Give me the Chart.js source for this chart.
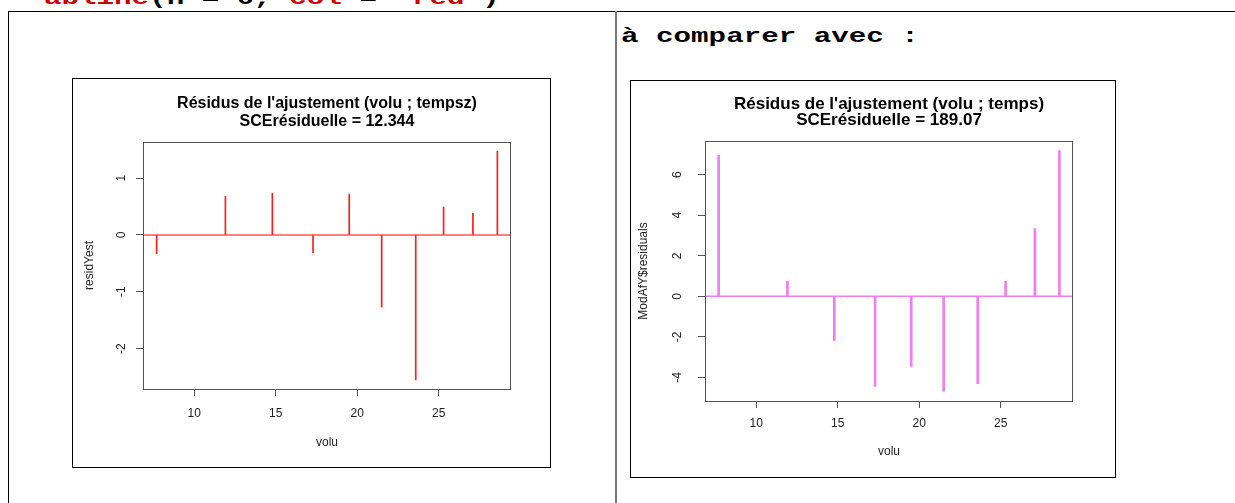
<!DOCTYPE html>
<html>
<head>
<meta charset="utf-8">
<script src="https://cdn.jsdelivr.net/npm/chart.js@4.4.1/dist/chart.umd.min.js"></script>
<style>
  html, body { margin: 0; padding: 0; background: #fff; width: 1235px; height: 503px; overflow: hidden; position: relative; }
  .code { position: absolute; font-family: "Courier New", "Liberation Mono", monospace; font-weight: bold;
          font-size: 20px; line-height: 20px; white-space: pre; transform: scaleX(1.46); transform-origin: 0 0; color: #000; }
  .kw { color: #cc0000; }
  .rule { position: absolute; background: #000; }
  .frame { position: absolute; border: 1px solid #000; background: #fff; }
  canvas { display: block; }
</style>
</head>
<body>
<div class="code" style="left:44px; top:-11px"><span class="kw">abline</span>(h = 0, <span class="kw">col</span> = <span class="kw">"red"</span>)</div>
<div class="rule" style="left:8px; top:11px; width:1227px; height:1px"></div>
<div class="rule" style="left:8px; top:11px; width:1px; height:492px"></div>
<div class="rule" style="left:615px; top:11px; width:2px; height:492px; background:#777"></div>
<div class="code" style="left:621px; top:27px">à comparer avec :</div>

<div class="frame" style="left:72px; top:78px; width:477px; height:388px"><canvas id="resZ" width="477" height="388"></canvas></div>
<div class="frame" style="left:630px; top:80px; width:484px; height:396px"><canvas id="resT" width="484" height="396"></canvas></div>

<script>
// volume of each observation (shared by both fits)
const volu = [7.69, 11.91, 14.79, 17.29, 19.51, 21.50, 23.59, 25.30, 27.10, 28.60];
// residuals of the fit volu ~ tempsz
const residYest = [-0.33, 0.68, 0.735, -0.31, 0.72, -1.27, -2.55, 0.49, 0.38, 1.475];
// residuals of the fit volu ~ temps
const residTemps = [6.96, 0.74, -2.18, -4.44, -3.46, -4.69, -4.31, 0.74, 3.34, 7.19];

const xTicks = [10, 15, 20, 25];
const yTicksZ = [-2, -1, 0, 1];
const yTicksT = [-4, -2, 0, 2, 4, 6];

const titleZ = ["Résidus de l'ajustement (volu ; tempsz)", "SCErésiduelle = 12.344"];
const titleT = ["Résidus de l'ajustement (volu ; temps)", "SCErésiduelle = 189.07"];
const abline = 0;

const FONT = '"Liberation Sans", Arial, Helvetica, sans-serif';

// R-style axis limits: data range widened by 4% on each side
function rRange(values) {
  const lo = Math.min(...values), hi = Math.max(...values);
  const pad = (hi - lo) * 0.04;
  return [lo - pad, hi + pad];
}

// plot box + horizontal reference line, drawn over the stems
const rFrame = {
  id: 'rFrame',
  afterDatasetsDraw(chart, args, opts) {
    const { ctx, chartArea: a, scales: { y } } = chart;
    ctx.save();
    const py = y.getPixelForValue(opts.h);
    ctx.strokeStyle = opts.hColor;
    ctx.lineWidth = opts.hWidth;
    ctx.beginPath();
    ctx.moveTo(a.left, py);
    ctx.lineTo(a.right, py);
    ctx.stroke();
    ctx.strokeStyle = '#555';
    ctx.lineWidth = 1;
    ctx.strokeRect(Math.round(a.left) + 0.5, Math.round(a.top) + 0.5,
                   Math.round(a.right - a.left) - 1, Math.round(a.bottom - a.top));
    ctx.restore();
  }
};

function residPlot(id, resid, yTicks, title, cfg) {
  const [xmin, xmax] = rRange(volu);
  const [ymin, ymax] = rRange(resid);
  return new Chart(document.getElementById(id), {
    type: 'bar',
    data: {
      datasets: [{
        data: volu.map((v, i) => ({ x: v, y: resid[i] })),
        backgroundColor: cfg.color,
        borderWidth: 0,
        barThickness: cfg.stem
      }]
    },
    options: {
      responsive: false,
      animation: false,
      events: [],
      devicePixelRatio: 1,
      layout: { padding: { left: 0, right: cfg.padRight, top: 0, bottom: 0 } },
      plugins: {
        legend: { display: false },
        tooltip: { enabled: false },
        title: {
          display: true, text: title, color: '#000', fullSize: false,
          font: { family: FONT, size: cfg.titleSize, weight: 'bold', lineHeight: cfg.titleLH + 'px' },
          padding: { top: cfg.titleTop, bottom: cfg.titleBottom }
        },
        rFrame: { h: abline, hColor: cfg.hColor, hWidth: cfg.hWidth }
      },
      scales: {
        x: {
          type: 'linear', min: xmin, max: xmax, offset: false,
          afterBuildTicks: s => { s.ticks = xTicks.map(v => ({ value: v })); },
          afterFit: s => { s.height = cfg.xHeight; },
          grid: { drawOnChartArea: false, drawTicks: true, tickLength: 7, color: '#555', offset: false },
          border: { display: false },
          ticks: { color: '#222', padding: cfg.xTickPad, font: { family: FONT, size: 12 }, maxRotation: 0, callback: v => String(v) },
          title: { display: true, text: 'volu', color: '#222', font: { family: FONT, size: 12 }, padding: { top: 0, bottom: cfg.xTitleBottom } }
        },
        y: {
          type: 'linear', min: ymin, max: ymax,
          afterBuildTicks: s => { s.ticks = yTicks.map(v => ({ value: v })); },
          afterFit: s => { s.width = cfg.yWidth; },
          grid: { drawOnChartArea: false, drawTicks: true, tickLength: 7, color: '#555' },
          border: { display: false },
          ticks: { color: '#222', padding: cfg.yTickPad, crossAlign: 'center', minRotation: 90, maxRotation: 90,
                   font: { family: FONT, size: 12 }, callback: v => String(v) },
          title: { display: true, text: cfg.yLabel, color: '#222', font: { family: FONT, size: 12 }, padding: { top: cfg.yTitleTop, bottom: 0 } }
        }
      }
    },
    plugins: [rFrame]
  });
}

residPlot('resZ', residYest, yTicksZ, titleZ, {
  color: '#ff1a1a', stem: 1, hColor: 'rgba(255,40,40,0.6)', hWidth: 2,
  padRight: 39, yWidth: 70, xHeight: 78,
  titleSize: 16, titleLH: 17.5, titleTop: 16, titleBottom: 12,
  xTickPad: 10, xTitleBottom: 17, yTickPad: 9, yTitleTop: 9, yLabel: 'residYest'
});

residPlot('resT', residTemps, yTicksT, titleT, {
  color: '#f27cf2', stem: 2, hColor: '#f27cf2', hWidth: 1.5,
  padRight: 42, yWidth: 74, xHeight: 76,
  titleSize: 17, titleLH: 16.5, titleTop: 15, titleBottom: 12,
  xTickPad: 8, xTitleBottom: 18, yTickPad: 15, yTitleTop: 5, yLabel: 'ModAfY$residuals'
});
</script>
</body>
</html>
